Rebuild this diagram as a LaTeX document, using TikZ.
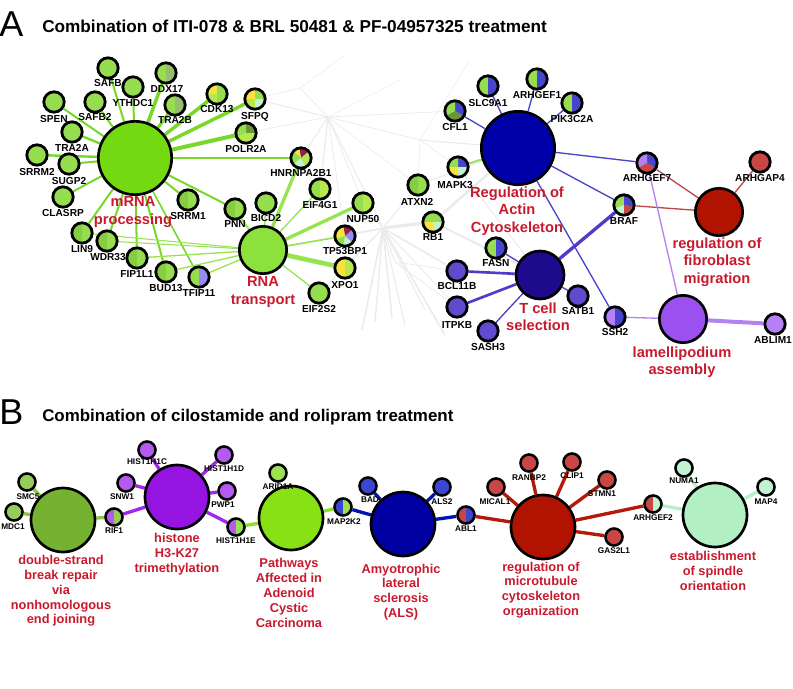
\documentclass[tikz,border=0pt]{standalone}
\usepackage{fontspec}
\setmainfont{Liberation Sans}
\pgfdeclarelayer{haze}
\pgfdeclarelayer{bg}
\pgfsetlayers{haze,bg,main}
% node colours
\definecolor{gmrna}{RGB}{115,218,18}
\definecolor{grna}{RGB}{140,225,60}
\definecolor{gS}{RGB}{150,222,80}
\definecolor{gSd}{RGB}{135,205,65}
\definecolor{gSl}{RGB}{182,232,80}
\definecolor{gY}{RGB}{246,228,60}
\definecolor{gM}{RGB}{195,240,205}
\definecolor{gDk}{RGB}{105,150,55}
\definecolor{gGr}{RGB}{150,190,110}
\definecolor{pR}{RGB}{150,30,80}
\definecolor{lav}{RGB}{150,140,245}
\definecolor{bS}{RGB}{70,70,205}
\definecolor{bBig}{RGB}{0,0,168}
\definecolor{tBig}{RGB}{30,10,140}
\definecolor{tS}{RGB}{95,75,205}
\definecolor{rBig}{RGB}{176,20,0}
\definecolor{rS}{RGB}{200,70,70}
\definecolor{lBig}{RGB}{155,80,240}
\definecolor{lS}{RGB}{180,130,245}
\definecolor{redtxt}{RGB}{200,25,45}
% edge colours
\definecolor{eM}{RGB}{120,215,40}
\definecolor{eR}{RGB}{150,228,80}
\definecolor{eB}{RGB}{70,70,200}
\definecolor{eT}{RGB}{80,60,200}
\definecolor{eF}{RGB}{190,70,70}
\definecolor{eL}{RGB}{180,130,240}
\definecolor{hazec}{RGB}{234,236,236}
% panel B
\definecolor{dsb}{RGB}{118,178,50}
\definecolor{dsbS}{RGB}{150,205,90}
\definecolor{his}{RGB}{150,20,225}
\definecolor{hisS}{RGB}{180,90,240}
\definecolor{pat}{RGB}{135,225,20}
\definecolor{patS}{RGB}{155,225,80}
\definecolor{als}{RGB}{0,0,160}
\definecolor{alsS}{RGB}{60,70,210}
\definecolor{mic}{RGB}{176,20,0}
\definecolor{micS}{RGB}{200,70,70}
\definecolor{spi}{RGB}{178,240,195}
\definecolor{spiS}{RGB}{195,242,208}
\definecolor{eDsb}{RGB}{140,200,70}
\definecolor{eHis}{RGB}{160,40,230}
\definecolor{ePat}{RGB}{140,225,40}
\definecolor{eAls}{RGB}{0,20,180}
\definecolor{eMic}{RGB}{180,25,10}
\definecolor{eSpi}{RGB}{180,240,200}
\tikzset{
  pie/.style={path picture={\foreach \pa/\pb/\pc in {#1}{\fill[\pc] (path picture bounding box.center) -- ++(\pa:14pt) arc[start angle=\pa,end angle=\pb,radius=14pt] -- cycle;}}},
  halves/.style 2 args={pie={90/270/#1,-90/90/#2}},
  sA/.style={circle,draw=black,line width=2.1pt,minimum size=15.3pt,inner sep=0pt,fill=gS},
  sB/.style={circle,draw=black,line width=1.9pt,minimum size=12.8pt,inner sep=0pt},
  bigA/.style={circle,draw=black,line width=2pt,inner sep=0pt},
  bigB/.style={circle,draw=black,line width=2pt,inner sep=0pt,minimum size=48pt},
  glA/.style={font=\bfseries\fontsize{7.6}{8}\selectfont,inner sep=0pt},
  glB/.style={font=\bfseries\fontsize{6.2}{6.5}\selectfont,inner sep=0pt},
  tA/.style={font=\bfseries\fontsize{11}{13}\selectfont,text=redtxt,align=center,inner sep=0pt},
  tB/.style={font=\bfseries\fontsize{9.6}{11.1}\selectfont,text=redtxt,align=center,inner sep=0pt},
  hz/.style={draw=hazec,line width=#1},
}
\begin{document}
\begin{tikzpicture}[x=0.75pt,y=-0.75pt]
\useasboundingbox (0,0) rectangle (793,689);
% ---------------- titles
\node[anchor=west,font=\fontsize{27}{30}\selectfont,inner sep=0pt] (lettA) at (-1,24) {A};
\node[anchor=west,font=\bfseries\fontsize{12.9}{14}\selectfont,inner sep=0pt] (titleA) at (42,26) {Combination of ITI-078 \& BRL 50481 \& PF-04957325 treatment};
\node[anchor=west,font=\fontsize{27}{30}\selectfont,inner sep=0pt] (lettB) at (-1,412) {B};
\node[anchor=west,font=\bfseries\fontsize{12.7}{14}\selectfont,inner sep=0pt] (titleB) at (42,417) {Combination of cilostamide and rolipram treatment};

% ---------------- panel A : clusters
\node[bigA,fill=gmrna,minimum size=55pt] (mrna) at (135,158) {};
\node[bigA,fill=grna,minimum size=35.5pt] (rna) at (263,250) {};
\node[bigA,fill=bBig,minimum size=55pt] (actin) at (518,148) {};
\node[bigA,fill=tBig,minimum size=36pt] (tcell) at (540,275) {};
\node[bigA,fill=rBig,minimum size=35.5pt] (fib) at (719,212) {};
\node[bigA,fill=lBig,minimum size=35.5pt] (lam) at (683,319) {};

% genes
\node[sA] (safb) at (108,68) {};
\node[sA] (ythdc1) at (133,87) {};
\node[sA,halves={gS}{gGr}] (ddx17) at (166,73) {};
\node[sA,halves={gS}{gGr}] (tra2b) at (175,105) {};
\node[sA,pie={90/180/gY,180/270/gSl,-90/90/gS}] (cdk13) at (217,94) {};
\node[sA,pie={0/90/gS,90/180/gY,180/270/gSl,270/360/gM}] (sfpq) at (255,99) {};
\node[sA,pie={0/90/gDk,90/200/gS,200/360/gSl}] (polr2a) at (246,133) {};
\node[sA] (safb2) at (95,102) {};
\node[sA] (spen) at (54,102) {};
\node[sA] (tra2a) at (72,132) {};
\node[sA] (srrm2) at (37,155) {};
\node[sA] (sugp2) at (69,164) {};
\node[sA,pie={40/100/pR,100/140/gY,140/220/gS,220/300/gM,300/400/gSl}] (hnrnpa) at (301,158) {};
\node[sA] (clasrp) at (63,197) {};
\node[sA,halves={gSd}{gS}] (lin9) at (82,233) {};
\node[sA,halves={gSd}{gS}] (wdr33) at (107,241) {};
\node[sA,halves={gSd}{gS}] (fip1l1) at (137,258) {};
\node[sA,halves={gSd}{gS}] (bud13) at (166,272) {};
\node[sA,halves={gS}{lav}] (tfip11) at (199,277) {};
\node[sA,halves={gSd}{gS}] (srrm1) at (188,200) {};
\node[sA,halves={gSd}{gS}] (pnn) at (235,209) {};
\node[sA] (bicd2) at (266,203) {};
\node[sA,halves={gS}{gSl}] (eif4g1) at (320,189) {};
\node[sA,halves={gS}{gSl}] (nup50) at (363,203) {};
\node[sA,pie={40/100/pR,100/200/gY,200/260/gS,260/320/gM,320/400/lav}] (tp53bp1) at (345,236) {};
\node[sA,halves={gY}{gSl}] (xpo1) at (345,268) {};
\node[sA] (eif2s2) at (319,293) {};
\node[sA,halves={gSd}{gS}] (atxn2) at (418,185) {};
\node[sA,pie={0/180/gS,180/270/gY,270/360/gM}] (rb1) at (433,222) {};
\node[sA,halves={gS}{bS}] (slc9a1) at (488,86) {};
\node[sA,halves={gS}{bS}] (arhgef1) at (537,79) {};
\node[sA,halves={gS}{bS}] (pik3c2a) at (572,103) {};
\node[sA,pie={-30/90/bS,90/210/gS,210/330/gDk}] (cfl1) at (455,111) {};
\node[sA,pie={0/90/bS,90/180/gS,180/270/gY,270/360/gM}] (mapk3) at (458,167) {};
\node[sA,pie={-30/90/bS,90/210/lS,210/330/rS}] (arhgef7) at (647,163) {};
\node[sA,pie={90/200/gS,200/270/gM,270/350/rS,350/450/bS}] (braf) at (624,205) {};
\node[sA,fill=rS] (arhgap4) at (760,162) {};
\node[sA,halves={gS}{bS}] (fasn) at (496,248) {};
\node[sA,fill=tS] (bcl11b) at (457,271) {};
\node[sA,fill=tS] (itpkb) at (457,307) {};
\node[sA,fill=tS] (sash3) at (488,331) {};
\node[sA,fill=tS] (satb1) at (578,296) {};
\node[sA,halves={lS}{bS}] (ssh2) at (615,317) {};
\node[sA,fill=lS] (ablim1) at (775,324) {};

% gene labels A
\node[glA] (lsafb) at (108,83) {SAFB};
\node[glA] (lythdc1) at (133,103) {YTHDC1};
\node[glA] (lddx17) at (167,89) {DDX17};
\node[glA] (ltra2b) at (175,120) {TRA2B};
\node[glA] (lcdk13) at (217,109) {CDK13};
\node[glA] (lsfpq) at (255,117) {SFPQ};
\node[glA] (lpolr2a) at (246,149) {POLR2A};
\node[glA] (lsafb2) at (95,117) {SAFB2};
\node[glA] (lspen) at (54,119) {SPEN};
\node[glA] (ltra2a) at (72,148) {TRA2A};
\node[glA] (lsrrm2) at (37,172) {SRRM2};
\node[glA] (lsugp2) at (69,181) {SUGP2};
\node[glA] (lhnrnpa) at (301,173) {HNRNPA2B1};
\node[glA] (lclasrp) at (63,213) {CLASRP};
\node[glA] (llin9) at (82,249) {LIN9};
\node[glA] (lwdr33) at (108,257) {WDR33};
\node[glA] (lfip1l1) at (137,274) {FIP1L1};
\node[glA] (lbud13) at (166,288) {BUD13};
\node[glA] (ltfip11) at (199,293) {TFIP11};
\node[glA] (lsrrm1) at (188,216) {SRRM1};
\node[glA] (lpnn) at (235,224) {PNN};
\node[glA] (lbicd2) at (266,218) {BICD2};
\node[glA] (leif4g1) at (320,205) {EIF4G1};
\node[glA] (lnup50) at (363,219) {NUP50};
\node[glA] (ltp53bp1) at (345,251) {TP53BP1};
\node[glA] (lxpo1) at (345,285) {XPO1};
\node[glA] (leif2s2) at (319,309) {EIF2S2};
\node[glA] (latxn2) at (417,202) {ATXN2};
\node[glA] (lrb1) at (433,237) {RB1};
\node[glA] (lslc9a1) at (488,103) {SLC9A1};
\node[glA] (larhgef1) at (537,95) {ARHGEF1};
\node[glA] (lpik3c2a) at (572,119) {PIK3C2A};
\node[glA] (lcfl1) at (455,127) {CFL1};
\node[glA] (lmapk3) at (455,185) {MAPK3};
\node[glA] (larhgef7) at (647,178) {ARHGEF7};
\node[glA] (lbraf) at (624,221) {BRAF};
\node[glA] (larhgap4) at (760,178) {ARHGAP4};
\node[glA] (lfasn) at (496,263) {FASN};
\node[glA] (lbcl11b) at (457,286) {BCL11B};
\node[glA] (litpkb) at (457,325) {ITPKB};
\node[glA] (lsash3) at (488,347) {SASH3};
\node[glA] (lsatb1) at (578,311) {SATB1};
\node[glA] (lssh2) at (615,332) {SSH2};
\node[glA] (lablim1) at (773,340) {ABLIM1};

% cluster labels A
\node[tA] (tmrna) at (133,212) {mRNA\\[0.5pt]processing};
\node[tA] (trna) at (263,292) {RNA\\[0.5pt]transport};
\node[tA] (tactin) at (517,211) {Regulation of\\Actin\\Cytoskeleton};
\node[tA] (ttcell) at (538,317) {T cell\\selection};
\node[tA] (tfib) at (717,262) {regulation of\\fibroblast\\migration};
\node[tA] (tlam) at (682,362) {lamellipodium\\assembly};

% faint background network
\coordinate (hub1) at (328,117);
\coordinate (hub2) at (383,228);
\coordinate (hub3) at (300,88);
\coordinate (hub4) at (420,140);
\coordinate (g1) at (362,330);
\coordinate (g2) at (375,322);
\coordinate (g3) at (392,318);
\coordinate (g4) at (405,326);
\coordinate (g5) at (425,310);
\coordinate (g6) at (445,335);
\coordinate (g7) at (395,262);
\coordinate (g8) at (400,80);
\coordinate (g9) at (345,55);
\coordinate (g10) at (470,60);
\begin{pgfonlayer}{haze}
\foreach \u/\v/\w in {hub1/hub3/0.6pt,hub1/sfpq/0.8pt,hub1/polr2a/0.6pt,hub1/hnrnpa/0.8pt,hub1/eif4g1/1pt,hub1/nup50/0.6pt,hub1/atxn2/0.5pt,hub1/cfl1/0.6pt,hub1/hub4/0.6pt,hub1/hub2/0.8pt,hub1/g8/0.4pt,hub1/tp53bp1/0.6pt,hub3/g9/0.4pt,hub3/sfpq/0.5pt,hub4/actin/0.8pt,hub4/mapk3/0.5pt,hub4/g10/0.4pt,hub4/atxn2/0.5pt,
  hub2/g1/1.2pt,hub2/g2/1pt,hub2/g3/1.2pt,hub2/g4/0.8pt,hub2/g5/0.8pt,hub2/g6/1.2pt,hub2/g7/0.8pt,hub2/tp53bp1/1.2pt,hub2/nup50/0.8pt,hub2/rb1/2.5pt,hub2/atxn2/0.8pt,hub2/bcl11b/1.2pt,hub2/itpkb/0.8pt,hub2/xpo1/0.8pt,hub2/eif2s2/0.6pt,hub2/rna/0.8pt,rb1/actin/2pt,rb1/tcell/1.5pt,atxn2/actin/0.8pt,g7/itpkb/0.6pt,g7/bcl11b/0.6pt,mapk3/tcell/0.8pt}
  {\draw[hz=\w] (\u) -- (\v);}
\end{pgfonlayer}

% edges A
\begin{pgfonlayer}{bg}
\foreach \v/\w in {safb/1.5pt,ythdc1/1.5pt,ddx17/2.6pt,tra2b/2.4pt,cdk13/2.6pt,sfpq/2.6pt,polr2a/3pt,safb2/1.5pt,spen/1.5pt,tra2a/1.8pt,srrm2/1.8pt,sugp2/1.5pt,hnrnpa/1.2pt,clasrp/1.5pt,lin9/1.5pt,wdr33/1.5pt,fip1l1/1.5pt,bud13/1.5pt,tfip11/1.2pt,srrm1/1.5pt,pnn/1.5pt}
  {\draw[eM,line width=\w] (mrna) -- (\v);}
\foreach \v/\w in {pnn/1.5pt,bicd2/1pt,hnrnpa/2.5pt,eif4g1/1pt,nup50/2.5pt,tp53bp1/1.2pt,xpo1/3.5pt,eif2s2/1pt,lin9/0.8pt,wdr33/0.8pt,fip1l1/1pt,bud13/1pt,tfip11/1pt}
  {\draw[eR,line width=\w] (rna) -- (\v);}
\foreach \v in {slc9a1,arhgef1,pik3c2a,cfl1,mapk3,arhgef7,braf,ssh2}
  {\draw[eB,line width=1pt] (actin) -- (\v);}
\draw[eM!70!white,line width=1.5pt] (actin) -- (mapk3);
\foreach \v/\w in {fasn/1pt,bcl11b/2pt,itpkb/2pt,sash3/1pt,satb1/1pt,braf/2.5pt}
  {\draw[eT,line width=\w] (tcell) -- (\v);}
\foreach \v in {arhgef7,braf,arhgap4}
  {\draw[eF,line width=1pt] (fib) -- (\v);}
\foreach \v/\w in {arhgef7/1pt,ssh2/1pt,ablim1/3pt}
  {\draw[eL,line width=\w] (lam) -- (\v);}
\end{pgfonlayer}

% ---------------- panel B
\node[glB] (lsmc5) at (28,497) {SMC5};
\node[bigB,fill=dsb] (dsbn) at (63,520) {};
\node[bigB,fill=his] (hisn) at (177,497) {};
\node[bigB,fill=pat] (patn) at (291,518) {};
\node[bigB,fill=als] (alsn) at (403,524) {};
\node[bigB,fill=mic] (micn) at (543,527) {};
\node[bigB,fill=spi] (spin) at (715,515) {};

\node[sB,fill=dsbS] (smc5) at (27,482) {};
\node[sB,fill=dsbS] (mdc1) at (14,512) {};
\node[sB,halves={hisS}{dsbS}] (rif1) at (114,517) {};
\node[sB,fill=hisS] (snw1) at (126,483) {};
\node[sB,fill=hisS] (h1c) at (147,450) {};
\node[sB,fill=hisS] (h1d) at (224,455) {};
\node[sB,fill=hisS] (pwp1) at (227,491) {};
\node[sB,halves={hisS}{patS}] (h1e) at (236,527) {};
\node[sB,fill=patS] (arid1a) at (278,473) {};
\node[sB,halves={alsS}{patS}] (map2k2) at (343,507) {};
\node[sB,fill=alsS] (bad) at (368,486) {};
\node[sB,fill=alsS] (als2) at (442,487) {};
\node[sB,halves={micS}{alsS}] (abl1) at (466,515) {};
\node[sB,fill=micS] (mical1) at (496,487) {};
\node[sB,fill=micS] (ranbp2) at (529,463) {};
\node[sB,fill=micS] (clip1) at (572,462) {};
\node[sB,fill=micS] (stmn1) at (607,480) {};
\node[sB,fill=micS] (gas2l1) at (614,537) {};
\node[sB,halves={micS}{spiS}] (arhgef2) at (653,504) {};
\node[sB,fill=spiS] (numa1) at (684,468) {};
\node[sB,fill=spiS] (map4) at (766,487) {};

\node[glB] (lmdc1) at (13,527) {MDC1};
\node[glB] (lrif1) at (114,531) {RIF1};
\node[glB] (lsnw1) at (122,497) {SNW1};
\node[glB] (lh1c) at (147,462) {HIST1H1C};
\node[glB] (lh1d) at (224,469) {HIST1H1D};
\node[glB] (lpwp1) at (223,505) {PWP1};
\node[glB] (lh1e) at (236,541) {HIST1H1E};
\node[glB] (larid1a) at (278,487) {ARID1A};
\node[glB] (lmap2k2) at (344,522) {MAP2K2};
\node[glB] (lbad) at (370,500) {BAD};
\node[glB] (lals2) at (442,502) {ALS2};
\node[glB] (labl1) at (466,529) {ABL1};
\node[glB] (lmical1) at (495,502) {MICAL1};
\node[glB] (lranbp2) at (529,478) {RANBP2};
\node[glB] (lclip1) at (572,476) {CLIP1};
\node[glB] (lstmn1) at (602,494) {STMN1};
\node[glB] (lgas2l1) at (614,551) {GAS2L1};
\node[glB] (larhgef2) at (653,518) {ARHGEF2};
\node[glB] (lnuma1) at (684,481) {NUMA1};
\node[glB] (lmap4) at (766,502) {MAP4};

\node[tB] (tdsb) at (61,591) {double-strand\\break repair\\via\\nonhomologous\\end joining};
\node[tB] (this) at (177,554) {histone\\H3-K27\\trimethylation};
\node[tB] (tpat) at (289,593) {Pathways\\Affected in\\Adenoid\\Cystic\\Carcinoma};
\node[tB] (tals) at (401,592) {Amyotrophic\\lateral\\sclerosis\\(ALS)};
\node[tB] (tmic) at (541,590) {regulation of\\microtubule\\cytoskeleton\\organization};
\node[tB] (tspi) at (713,571) {establishment\\of spindle\\orientation};

\begin{pgfonlayer}{bg}
\foreach \v in {smc5,mdc1,rif1} {\draw[eDsb,line width=2.5pt] (dsbn) -- (\v);}
\foreach \v in {rif1,snw1,h1c,h1d,pwp1,h1e} {\draw[eHis,line width=2.5pt] (hisn) -- (\v);}
\foreach \v in {h1e,map2k2} {\draw[ePat,line width=2.5pt] (patn) -- (\v);}
\foreach \v in {map2k2,bad,als2,abl1} {\draw[eAls,line width=2.5pt] (alsn) -- (\v);}
\foreach \v in {abl1,mical1,ranbp2,clip1,stmn1,gas2l1,arhgef2} {\draw[eMic,line width=2.5pt] (micn) -- (\v);}
\foreach \v in {arhgef2,numa1,map4} {\draw[eSpi,line width=2.5pt] (spin) -- (\v);}
\end{pgfonlayer}
\end{tikzpicture}
\end{document}
